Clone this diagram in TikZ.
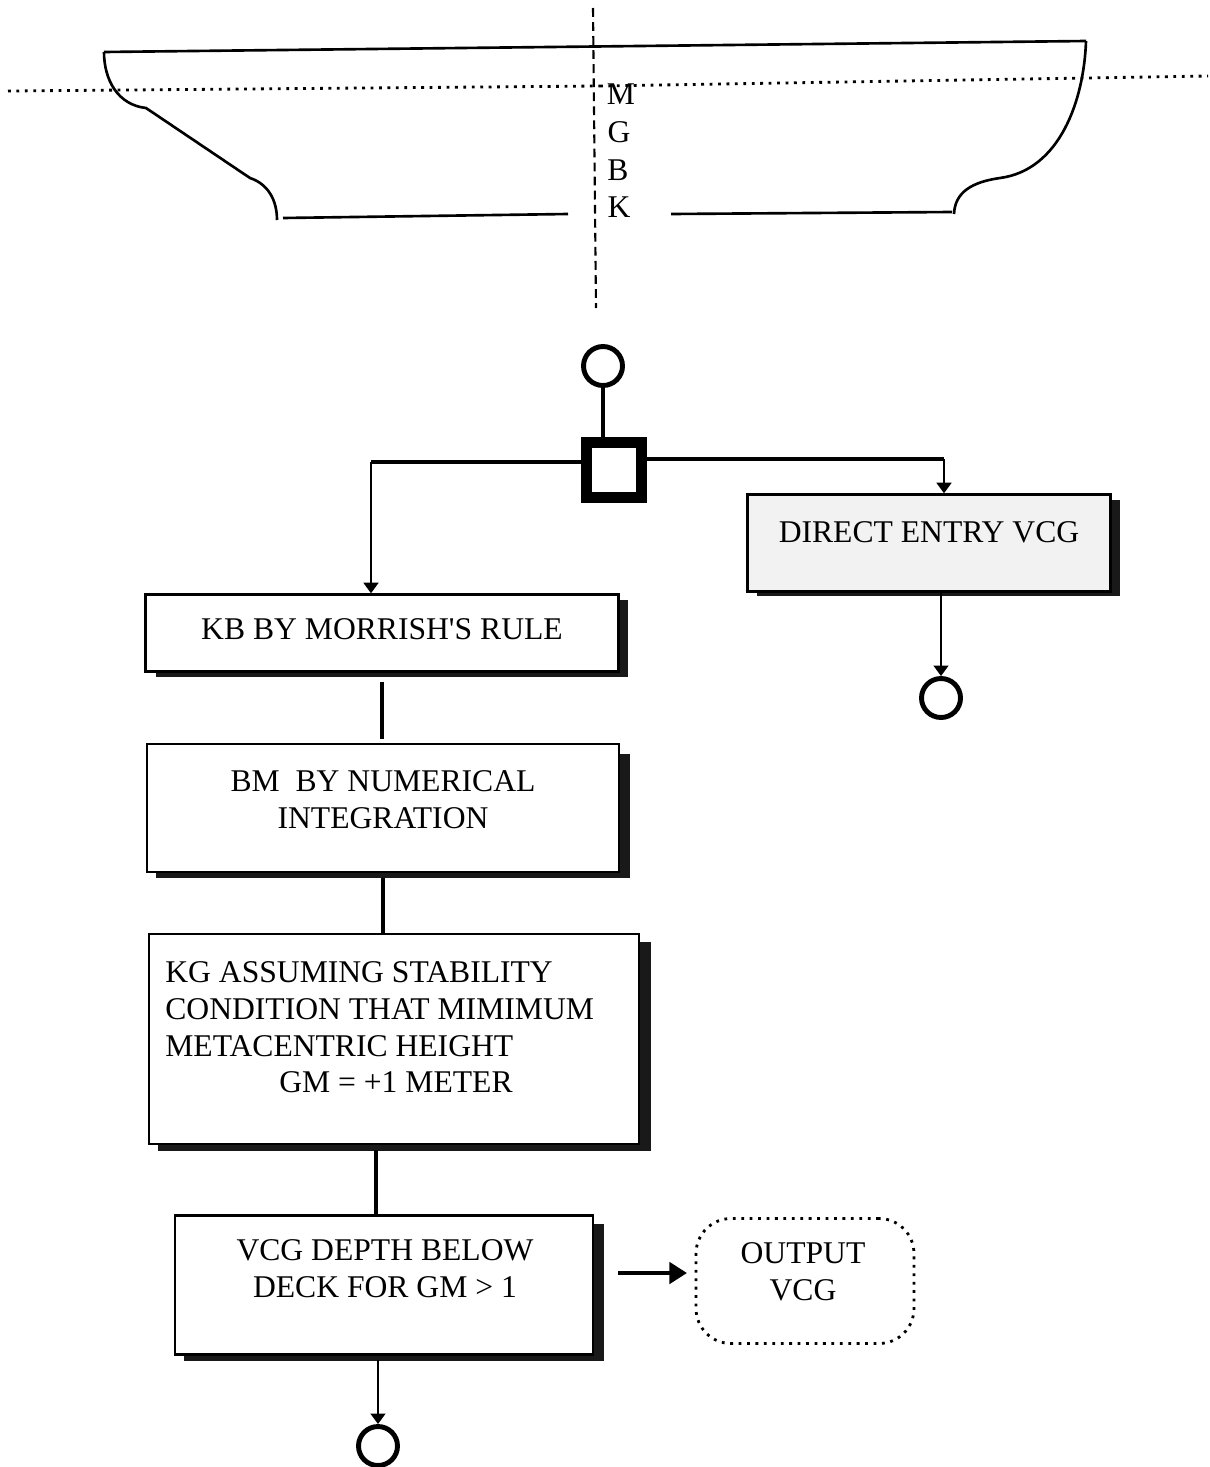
\documentclass[tikz,border=0pt]{standalone}
\usepackage{fontspec}
\setmainfont{Liberation Serif}
\usetikzlibrary{arrows.meta}
\tikzset{
  procbox/.style={draw,line width=1.4pt,fill=white},
  boxtext/.style={inner sep=0pt,align=center,font=\fontsize{18}{21}\selectfont},
  shadowbar/.style={fill=black!90},
  endcircle/.style={draw,circle,line width=2.8pt,fill=white,minimum size=0.78cm,inner sep=0pt},
  letter/.style={font=\fontsize{18}{20}\selectfont,inner sep=0pt},
  hullline/.style={line width=1.5pt},
  dotline/.style={line width=1.6pt,dash pattern=on 1.6pt off 3.2pt},
  link/.style={line width=2.8pt},
  thinarrow/.style={line width=1pt,-{Triangle[length=6pt,width=8.5pt]}},
}
\begin{document}
\begin{tikzpicture}[x=0.02cm,y=-0.02cm]
\useasboundingbox (0,0) rectangle (1210,1467);

% hull section
\draw[hullline] (104,52) -- (1086,41);
\draw[hullline] (104,52) .. controls (104,80) and (118,105) .. (146,108) -- (250,178)
  .. controls (268,184) and (277,200) .. (277,220);
\draw[hullline] (283,218) -- (568,214);
\draw[hullline] (671,214) -- (952,212);
\draw[hullline] (1086,41) .. controls (1084,100) and (1060,170) .. (1000,178)
  .. controls (972,182) and (955,192) .. (954,214);
\draw[dotline] (8,91) -- (600,86);
\draw[dotline] (600,86) -- (1208,76);
\draw[line width=1.2pt,dash pattern=on 5pt off 3pt] (593,8) -- (596,308);

\node[letter] (markM) at (621,94) {M};
\node[letter] (markG) at (619,132) {G};
\node[letter] (markB) at (618,170) {B};
\node[letter] (markK) at (619,207) {K};

% direct entry branch
\fill[shadowbar] (757,500) rectangle (1120,596);
\node[draw,line width=1.4pt,fill=black!5,minimum width=7.26cm,minimum height=1.94cm] (direct) at (929,543) {};
\node[boxtext] (directtext) at (929,532) {DIRECT ENTRY VCG};
\node[endcircle] (startC) at (603,366) {};
\node[draw,line width=6pt,fill=white,minimum size=1.1cm,inner sep=0pt] (choice) at (614,470) {};
\node[endcircle] (endA) at (941,698) {};

% boxes down the left side
\fill[shadowbar] (156,600) rectangle (628,677);
\node[procbox,minimum width=9.46cm,minimum height=1.54cm] (morrish) at (382,633) {};
\node[boxtext] (morrishtext) at (382,629) {KB BY MORRISH\textquotesingle S RULE};

\fill[shadowbar] (156,754) rectangle (630,878);
\node[procbox,minimum width=9.44cm,minimum height=2.56cm] (numint) at (383,808) {};
\node[boxtext] (numinttext) at (383,800) {BM\ \ BY NUMERICAL\\INTEGRATION};

\fill[shadowbar] (158,942) rectangle (651,1151);
\node[procbox,minimum width=9.8cm,minimum height=4.2cm] (kgbox) at (394,1039) {};
\node[boxtext,anchor=north west,align=left] (kgtext) at (165,961)
  {KG ASSUMING STABILITY\\CONDITION THAT MIMIMUM\\METACENTRIC HEIGHT\\\hspace{2.28cm}GM = +1 METER};

\fill[shadowbar] (184,1224) rectangle (604,1361);
\node[procbox,minimum width=8.36cm,minimum height=2.78cm] (depth) at (384,1285) {};
\node[boxtext] (depthtext) at (385,1269) {VCG DEPTH BELOW\\DECK FOR GM > 1};

\node[draw,dotline,rounded corners=0.7cm,minimum width=4.36cm,minimum height=2.5cm] (output) at (805,1281) {};
\node[boxtext] (outputtext) at (803,1272) {OUTPUT\\VCG};
\node[endcircle] (endB) at (378,1446) {};

% connectors
\draw[link] (startC) -- (choice.north -| startC);
\coordinate (leftTurn) at (371,462);
\coordinate (rightTurn) at (944,459);
\coordinate (outStart) at (618,1273);
\coordinate (outEnd) at (687,1273);
\draw[link] (choice.west |- leftTurn) -- (leftTurn);
\draw[link] (choice.east |- rightTurn) -- (rightTurn);
\draw[thinarrow] (leftTurn) -- (morrish.north -| leftTurn);
\draw[thinarrow] (rightTurn) -- (direct.north -| rightTurn);
\draw[thinarrow] (direct.south -| endA) -- (endA);
\draw[link] (morrish.south) ++(0,9) -- ++(0,57);
\draw[link] (numint) ++(0,70) -- (kgbox.north -| numint);
\draw[link] (kgbox.south -| 376,0) ++(0,5) -- (depth.north -| 376,0);
\draw[thinarrow] (depth.south -| endB) ++(0,4) -- (endB);
\draw[line width=2.8pt,-{Triangle[length=10pt,width=12pt]}] (outStart) -- (outEnd);
\end{tikzpicture}
\end{document}
